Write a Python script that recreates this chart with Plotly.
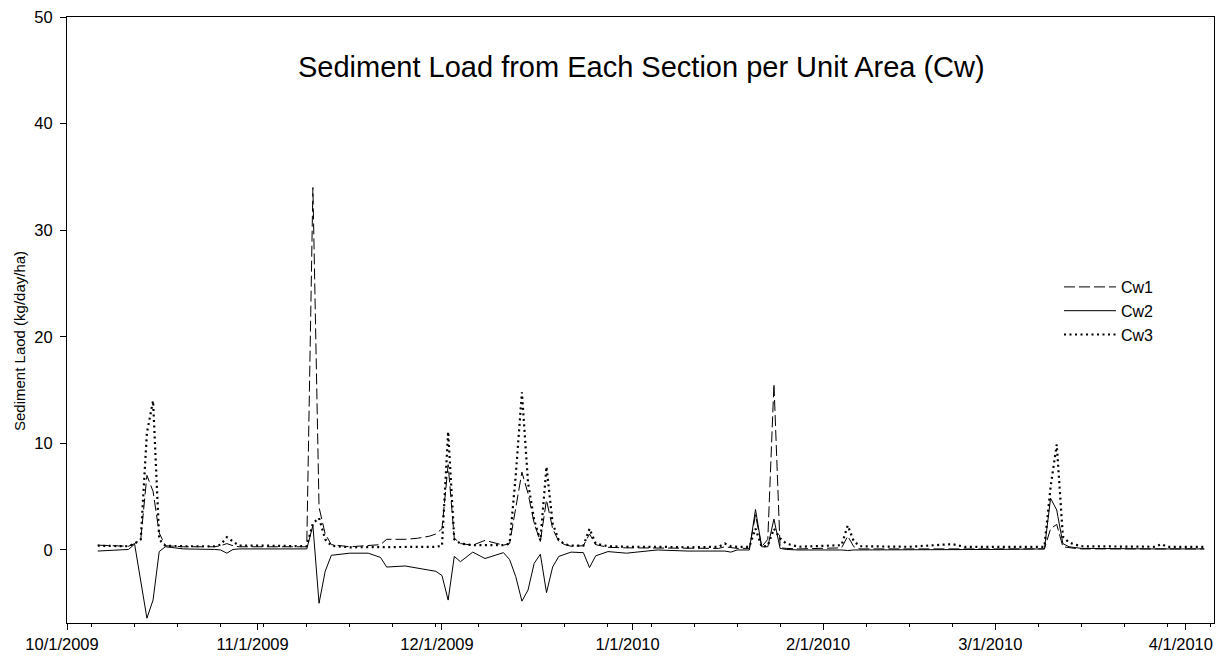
import plotly.graph_objects as go

# Sample dates (vertices of the series)
dates = [
    "2009-10-06", "2009-10-11", "2009-10-12", "2009-10-13", "2009-10-14", "2009-10-15",
    "2009-10-16", "2009-10-17", "2009-10-20", "2009-10-25", "2009-10-26", "2009-10-27",
    "2009-10-28", "2009-10-29", "2009-11-03", "2009-11-09", "2009-11-10", "2009-11-11",
    "2009-11-12", "2009-11-13", "2009-11-16", "2009-11-19", "2009-11-21", "2009-11-22",
    "2009-11-25", "2009-11-27", "2009-11-29", "2009-11-30", "2009-12-01", "2009-12-02",
    "2009-12-03", "2009-12-04", "2009-12-06", "2009-12-08", "2009-12-11", "2009-12-12",
    "2009-12-13", "2009-12-14", "2009-12-15", "2009-12-16", "2009-12-17", "2009-12-18",
    "2009-12-19", "2009-12-20", "2009-12-21", "2009-12-22", "2009-12-24", "2009-12-25",
    "2009-12-26", "2009-12-28", "2009-12-31", "2010-01-05", "2010-01-10", "2010-01-15",
    "2010-01-16", "2010-01-17", "2010-01-18", "2010-01-20", "2010-01-21", "2010-01-22",
    "2010-01-23", "2010-01-24", "2010-01-25", "2010-01-26", "2010-01-28", "2010-02-04",
    "2010-02-05", "2010-02-06", "2010-02-07", "2010-02-15", "2010-02-22", "2010-02-24",
    "2010-03-01", "2010-03-09", "2010-03-10", "2010-03-11", "2010-03-12", "2010-03-13",
    "2010-03-14", "2010-03-15", "2010-03-27", "2010-03-28", "2010-03-29", "2010-04-04",
]

cw1 = [
    0.45, 0.35, 0.6, 1.0, 7.0, 5.5,
    1.6, 0.4, 0.3, 0.3, 0.4, 0.6,
    0.4, 0.3, 0.3, 0.3, 34.0, 4.0,
    1.5, 0.5, 0.3, 0.4, 0.5, 1.0,
    1.0, 1.1, 1.3, 1.5, 2.0, 8.0,
    1.1, 0.6, 0.45, 0.9, 0.45, 0.6,
    4.0, 7.3, 5.3, 2.5, 0.8, 4.7,
    2.0, 0.8, 0.5, 0.35, 0.4, 1.5,
    0.5, 0.25, 0.2, 0.2, 0.15, 0.15,
    0.3, 0.2, 0.15, 0.15, 3.3, 0.3,
    1.0, 15.6, 0.2, 0.15, 0.1, 0.2,
    1.3, 0.3, 0.1, 0.1, 0.15, 0.1,
    0.1, 0.1, 2.0, 2.4, 0.3, 0.2,
    0.15, 0.1, 0.1, 0.15, 0.1, 0.1,
]

cw2 = [
    -0.1, 0.05, 0.55, -3.0, -6.4, -4.7,
    -0.15, 0.3, 0.1, 0.05, 0.0, -0.3,
    0.05, 0.1, 0.1, 0.1, 2.3, -5.0,
    -2.0, -0.5, -0.3, -0.3, -0.7, -1.6,
    -1.5, -1.7, -1.9, -2.0, -2.4, -4.7,
    -0.6, -1.1, -0.2, -0.8, -0.25, -0.9,
    -2.5, -4.8, -3.75, -1.25, -0.4, -4.0,
    -1.6, -0.6, -0.4, -0.2, -0.25, -1.65,
    -0.55, -0.15, -0.3, 0.0, -0.1, -0.05,
    -0.1, -0.2, 0.0, 0.0, 3.8, 0.3,
    0.3, 2.9, 0.15, 0.05, 0.0, 0.0,
    -0.05, 0.0, 0.0, 0.0, 0.05, 0.05,
    0.05, 0.1, 4.85, 3.75, 0.6, 0.3,
    0.2, 0.15, 0.1, 0.1, 0.1, 0.1,
]

cw3 = [
    0.4, 0.35, 0.6, 1.0, 11.0, 14.0,
    1.0, 0.4, 0.35, 0.35, 0.5, 1.2,
    0.8, 0.4, 0.4, 0.35, 2.5, 3.0,
    1.0, 0.4, 0.25, 0.25, 0.25, 0.25,
    0.25, 0.25, 0.3, 0.3, 0.4, 11.1,
    1.0, 0.6, 0.45, 0.45, 0.45, 0.6,
    7.0, 14.8, 6.3, 2.8, 0.9, 7.8,
    2.5, 0.9, 0.55, 0.4, 0.4, 2.0,
    0.6, 0.35, 0.3, 0.3, 0.25, 0.3,
    0.6, 0.35, 0.3, 0.3, 2.0, 0.3,
    0.4, 2.0, 1.1, 0.6, 0.3, 0.45,
    2.3, 0.8, 0.35, 0.3, 0.55, 0.3,
    0.3, 0.3, 5.9, 9.9, 1.25, 0.7,
    0.5, 0.35, 0.3, 0.55, 0.3, 0.3,
]

series_names = ["Cw1", "Cw2", "Cw3"]

FONT = "Liberation Sans, Arial, sans-serif"

fig = go.Figure()
fig.add_trace(go.Scatter(x=dates, y=cw1, name=series_names[0], mode="lines",
                         line=dict(color="black", width=1, dash="11px,4px")))
fig.add_trace(go.Scatter(x=dates, y=cw2, name=series_names[1], mode="lines",
                         line=dict(color="black", width=1)))
fig.add_trace(go.Scatter(x=dates, y=cw3, name=series_names[2], mode="lines",
                         line=dict(color="black", width=2.2, dash="2px,3.5px")))

W, H = 1220, 659
L, R, T, B = 67, 6, 17, 36
pw, ph = W - L - R, H - T - B

def px_x(px):
    return (px - L) / pw

def px_y(py):
    return (H - B - py) / ph

fig.update_layout(
    width=W, height=H,
    margin=dict(l=L, r=R, t=T, b=B, autoexpand=False),
    paper_bgcolor="white", plot_bgcolor="white",
    font=dict(family=FONT, color="black", size=16),
    showlegend=True,
    legend=dict(x=px_x(1059), y=px_y(270), xanchor="left", yanchor="top",
                bgcolor="rgba(0,0,0,0)", borderwidth=0, itemwidth=52,
                font=dict(size=16, family=FONT), tracegroupgap=0),
    xaxis=dict(
        type="date", automargin=False,
        range=["2009-10-01", "2010-04-05 14:00"],
        tick0="2009-10-01", dtick="M1", tickformat="%-m/%-d/%Y",
        ticks="outside", ticklen=6, tickwidth=1, tickcolor="black",
        ticklabelshift=-5,
        minor=dict(tick0="2009-10-05", dtick=7 * 86400000, ticks="outside",
                   ticklen=3, tickcolor="black", showgrid=False),
        showline=True, linecolor="black", linewidth=1, mirror=True,
        showgrid=False, zeroline=False,
        tickfont=dict(size=16.5, family=FONT),
    ),
    yaxis=dict(
        automargin=False,
        range=[-6.85, 50], tick0=0, dtick=10,
        ticks="outside", ticklen=6, tickwidth=1, tickcolor="black",
        ticklabelstandoff=4,
        showline=True, linecolor="black", linewidth=1, mirror=True,
        showgrid=False, zeroline=False,
        tickfont=dict(size=16.5, family=FONT),
    ),
    annotations=[
        dict(text="Sediment Load from Each Section per Unit Area (Cw)",
             xref="paper", yref="paper", x=px_x(641), y=px_y(67),
             xanchor="center", yanchor="middle", showarrow=False,
             font=dict(size=29, family=FONT)),
        dict(text="Sediment Laod (kg/day/ha)",
             xref="paper", yref="paper", x=px_x(19), y=px_y(341),
             xanchor="center", yanchor="middle", showarrow=False, textangle=-90,
             font=dict(size=15, family=FONT)),
    ],
)

fig.write_html("out.html", config={"displayModeBar": False},
               post_script="document.body.style.margin='0';document.body.style.overflow='hidden';")
